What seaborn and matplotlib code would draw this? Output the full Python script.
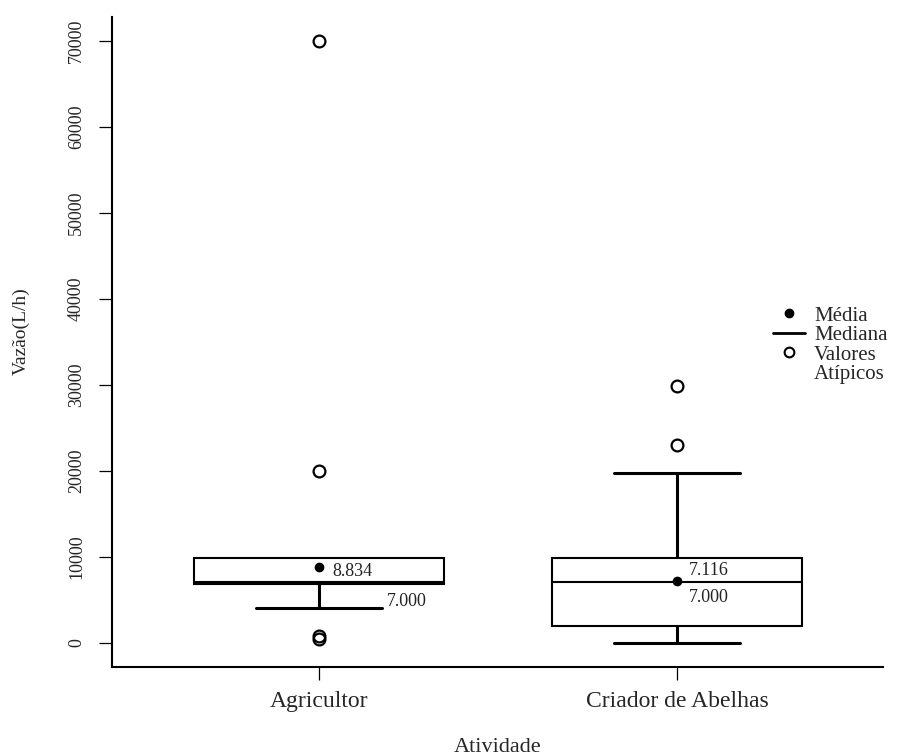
import matplotlib.pyplot as plt
from matplotlib.lines import Line2D
import numpy as np
import pandas as pd
import seaborn as sns

# valores (L/h): cada lista reproduz quartis, bigodes e atípicos
atividades = ["Agricultor", "Criador de Abelhas"]
agricultor = [400, 800, 4000, 6800, 6800, 7000, 7000, 7000, 9800, 9800, 9800, 20000, 70000]
criador = [0, 1900, 1900, 1900, 7000, 7000, 7000, 9800, 9800, 9800, 19700, 23000, 29800]
medias = [8834, 7116]
medianas = [7000, 7000]
yticks = [0, 10000, 20000, 30000, 40000, 50000, 60000, 70000]
legenda = ["Média", "Mediana", "Valores", "Atípicos"]


def rotulo(v):
    return f"{v:,}".replace(",", ".")


df = pd.DataFrame({
    "Atividade": [atividades[0]] * len(agricultor) + [atividades[1]] * len(criador),
    "Vazao": agricultor + criador,
})

sns.set_style("ticks")
plt.rcParams["font.family"] = ["Liberation Serif", "DejaVu Serif"]

fig, ax = plt.subplots(figsize=(9.02, 7.56), dpi=100)
fig.subplots_adjust(left=0.1242, right=0.979, bottom=0.1177, top=0.9775)

sns.boxplot(data=df, x="Atividade", y="Vazao", order=atividades, width=0.7,
            color="white", linecolor="black", linewidth=1.5, fliersize=8.5, whis=1.5,
            flierprops=dict(marker="o", markerfacecolor="none", markeredgecolor="black",
                            markeredgewidth=1.6),
            whiskerprops=dict(linewidth=2.2), capprops=dict(linewidth=2.2),
            medianprops=dict(linewidth=1.5, color="black"), ax=ax)

# esconde bigode/cap de comprimento zero (quando o bigode coincide com o Q3)
for i, vals in enumerate([agricultor, criador]):
    q3 = np.percentile(vals, 75)
    for ln in ax.lines:
        x = np.asarray(ln.get_xdata(), dtype=float)
        y = np.asarray(ln.get_ydata(), dtype=float)
        if len(y) == 2 and y[0] == y[1] == q3 and abs(x.mean() - i) < 0.01 and np.ptp(x) < 0.5:
            ln.set_visible(False)

# médias
sns.stripplot(x=atividades, y=medias, order=atividades, jitter=False, color="black",
              size=7, zorder=5, ax=ax)

# rótulos de média e mediana
ax.annotate(rotulo(medias[0]), (0, medias[0]), xytext=(9.4, -3.2), textcoords="offset points",
            va="center", ha="left", fontsize=13, color="#222222")
ax.annotate(rotulo(medianas[0]), (0, medianas[0]), xytext=(49, -13.7), textcoords="offset points",
            va="center", ha="left", fontsize=13, color="#222222")
ax.annotate(rotulo(medias[1]), (1, medias[1]), xytext=(8.6, 7.5), textcoords="offset points",
            va="center", ha="left", fontsize=13, color="#222222")
ax.annotate(rotulo(medianas[1]), (1, medianas[1]), xytext=(8.6, -10.6), textcoords="offset points",
            va="center", ha="left", fontsize=13, color="#222222")

ax.set_xlim(-0.578, 1.575)
ax.set_ylim(-2851, 72790)
ax.set_yticks(yticks)
ax.set_yticklabels([str(t) for t in yticks], rotation=90, va="center", fontsize=13)
ax.set_xticks([0, 1])
ax.set_xticklabels(atividades, fontsize=17)
ax.tick_params(axis="both", direction="out", length=9.5, width=0.9, color="black")
ax.tick_params(axis="y", pad=10)
ax.tick_params(axis="x", pad=7.5)

for s in ["top", "right"]:
    ax.spines[s].set_visible(False)
for s in ["left", "bottom"]:
    ax.spines[s].set_linewidth(1.5)
    ax.spines[s].set_color("black")

ax.set_xlabel("Atividade", fontsize=16)
ax.xaxis.set_label_coords(0.5, -0.1308)
ax.xaxis.label.set_va("baseline")
ax.set_ylabel("Vazão(L/h)", fontsize=14)
ax.yaxis.set_label_coords(-0.118, 0.517)
ax.yaxis.label.set_va("center")
ax.yaxis.label.set_ha("center")

handles = [
    Line2D([], [], marker="o", color="black", linestyle="none", markersize=6),
    Line2D([], [], color="black", linewidth=2),
    Line2D([], [], marker="o", markerfacecolor="none", markeredgecolor="black",
           linestyle="none", markersize=7, markeredgewidth=1.5),
    Line2D([], [], linestyle="none"),
]
leg = ax.legend(handles, legenda, loc="upper left", bbox_to_anchor=(773 / 902, 1 - 306 / 756),
                bbox_transform=fig.transFigure, frameon=False, borderpad=0, borderaxespad=0,
                fontsize=15, handlelength=1.54, handletextpad=0.43, labelspacing=0.0)

fig.savefig("out.png", dpi=100)
